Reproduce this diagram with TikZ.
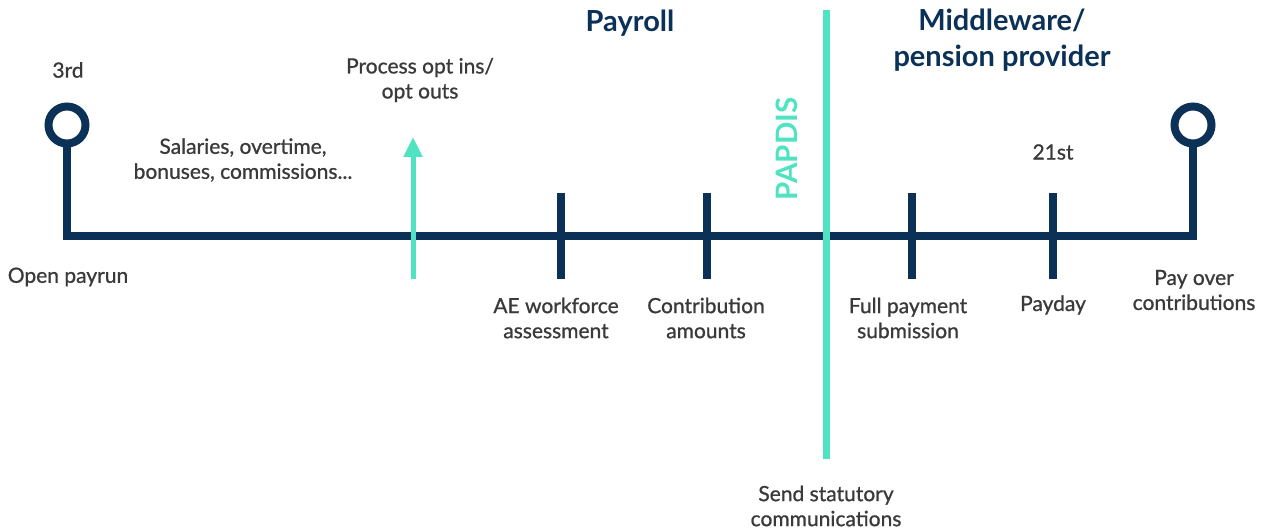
\documentclass[tikz,border=0pt]{standalone}
\usepackage{fontspec}
\setmainfont{Lato}
\usetikzlibrary{arrows.meta}
\definecolor{navy}{HTML}{0C3157}
\definecolor{teal}{HTML}{4FE3C1}
\definecolor{txt}{HTML}{3A3A3A}
\tikzset{
  rail/.style={draw=navy,line width=8pt},
  tick/.style={draw=navy,line width=8pt},
  endring/.style={circle,draw=navy,line width=8pt,minimum size=37pt,inner sep=0pt,fill=white},
  lbl/.style={text=txt,font=\fontsize{21}{25}\selectfont\addfontfeature{FakeBold=0.9},align=center,inner sep=0pt},
  head/.style={text=navy,font=\fontsize{29}{36}\selectfont\bfseries,align=center,inner sep=0pt},
}
\begin{document}
\begin{tikzpicture}[x=1pt,y=-1pt]
\useasboundingbox (0,0) rectangle (1268,529);
% rail
\coordinate (L) at (67,236);
\coordinate (R) at (1193,236);
\node[endring] (c1) at (67,125) {};
\node[endring] (c2) at (1193,125) {};
\draw[rail,line join=miter] (c1.south) -- (L) -- (R) -- (c2.south);
% ticks
\foreach \n/\x in {t1/561,t2/707,t3/912,t4/1053}{
  \coordinate (\n a) at (\x,193);
  \coordinate (\n b) at (\x,279);
  \draw[tick] (\n a) -- (\n b);
}
% teal arrow
\coordinate (a1) at (413,279);
\coordinate (a2) at (413,137);
\draw[teal,line width=5pt,-{Triangle[length=20pt,width=18pt]}] (a1) -- (a2);
% teal divider
\coordinate (d1) at (826,10);
\coordinate (d2) at (826,459);
\draw[teal,line width=7pt] (d1) -- (d2);
\node[text=teal,font=\fontsize{29.5}{30}\selectfont\bfseries,rotate=90,inner sep=0pt] (papdis) at (787,149) {PAPDIS};
% headings
\node[head] (payroll) at (630,23) {Payroll};
\node[head] (mw) at (1002,40) {Middleware/\\pension provider};
% labels
\node[lbl] (third) at (68,70) {3rd};
\node[lbl] (st21) at (1053,152) {21st};
\node[lbl] (proc) at (420,80) {Process opt ins/\\opt outs};
\node[lbl] (sal) at (243,160) {Salaries, overtime,\\bonuses, commissions...};
\node[lbl] (open) at (68,277) {Open payrun};
\node[lbl] (ae) at (556,318) {AE workforce\\assessment};
\node[lbl] (contr) at (706,318) {Contribution\\amounts};
\node[lbl] (fps) at (908,318) {Full payment\\submission};
\node[lbl] (payday) at (1053,305) {Payday};
\node[lbl] (payover) at (1194,290) {Pay over\\contributions};
\node[lbl] (send) at (826,506) {Send statutory\\communications};
\end{tikzpicture}
\end{document}
